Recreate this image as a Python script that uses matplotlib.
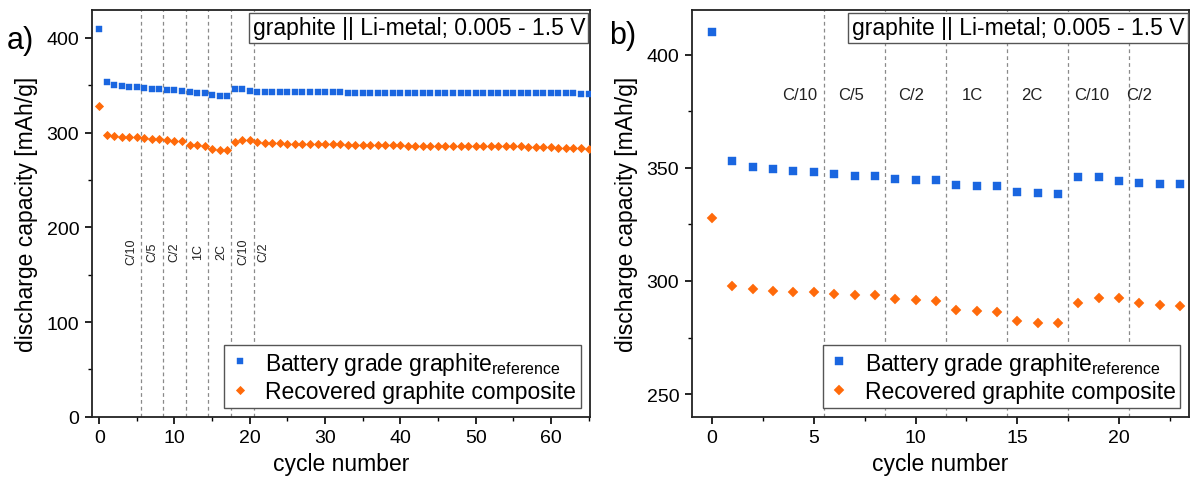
"""
Rate capability: battery grade vs recovered graphite (graphite || Li-metal)
"""

import matplotlib
matplotlib.use("Agg")
import matplotlib.pyplot as plt
from matplotlib.ticker import MultipleLocator

plt.rcParams['font.family'] = ['Liberation Sans', 'DejaVu Sans']
plt.rcParams['mathtext.fontset'] = 'custom'
plt.rcParams['mathtext.rm'] = 'Liberation Sans'

# discharge capacity [mAh/g] per cycle
cycles = list(range(0, 66))
reference = [410.0, 353.1, 350.3, 349.3, 348.7, 348.1, 347.2, 346.6, 346.5, 345.3,
             344.7, 344.5, 342.6, 342.0, 341.9, 339.5, 338.8, 338.5, 345.9, 345.9,
             344.1, 343.2, 343.1, 342.9, 342.9, 342.8, 342.8, 342.7, 342.7, 342.6,
             342.6, 342.5, 342.5, 342.4, 342.4, 342.3, 342.3, 342.3, 342.2, 342.2,
             342.2, 342.1, 342.1, 342.0, 342.0, 342.0, 341.9, 341.9, 341.9, 341.8,
             341.8, 341.8, 341.7, 341.7, 341.7, 341.6, 341.6, 341.6, 341.5, 341.5,
             341.5, 341.4, 341.4, 341.4, 341.3, 341.3]
recovered = [327.7, 297.8, 296.3, 295.7, 295.3, 295.0, 294.2, 293.8, 293.7, 292.2,
             291.4, 291.2, 287.3, 286.6, 286.4, 282.3, 281.6, 281.3, 290.3, 292.3,
             292.3, 290.3, 289.2, 288.9, 288.8, 288.5, 288.4, 288.1, 288.0, 287.9,
             287.6, 287.5, 287.5, 287.3, 287.1, 287.0, 287.0, 286.9, 286.6, 286.5,
             286.5, 286.4, 286.1, 286.0, 286.0, 285.7, 285.6, 285.9, 286.0, 286.0,
             286.1, 286.0, 286.0, 285.9, 285.6, 285.5, 285.4, 285.1, 285.0, 284.7,
             284.5, 284.2, 284.0, 283.6, 283.4, 283.0]

rate_bounds = [5.5, 8.5, 11.5, 14.5, 17.5, 20.5]
rate_labels = ["C/10", "C/5", "C/2", "1C", "2C", "C/10", "C/2"]
rate_pos_a = [4.3, 7.0, 10.0, 13.1, 16.2, 19.1, 21.8]
rate_pos_b = [4.3, 6.85, 9.8, 12.8, 15.7, 18.65, 21.0]

BLUE = "#1a66e0"
ORANGE = "#ff6a0a"
DASH = "#8a8a8a"

lbl_ref = r"Battery grade graphite$_\mathregular{reference}$"
lbl_rec = "Recovered graphite composite"
note = "graphite || Li-metal; 0.005 - 1.5 V"

fig = plt.figure(figsize=(11.92, 4.81), dpi=100)
ax1 = fig.add_axes([0.0769, 0.1316, 0.4181, 0.8464])
ax2 = fig.add_axes([0.5803, 0.1316, 0.4174, 0.8464])


def style_axes(ax):
    for s in ax.spines.values():
        s.set_linewidth(1.3)
        s.set_color("#222222")
    ax.tick_params(which="major", direction="out", length=5, width=1.2,
                   labelsize=14, pad=4)
    ax.tick_params(which="minor", direction="out", length=3, width=1.0)
    ax.tick_params(top=False, right=False)


def add_common(ax):
    for b in rate_bounds:
        ax.axvline(b, color=DASH, lw=0.9, ls=(0, (3, 2.5)), zorder=1)
    ax.text(0.99, 0.984, note, transform=ax.transAxes, ha="right", va="top",
            fontsize=16.5, zorder=5,
            bbox=dict(boxstyle="square,pad=0.15", fc="white", ec="#555555", lw=1.0))
    ax.set_xlabel("cycle number", fontsize=16.5, labelpad=4)
    ax.set_ylabel("discharge capacity [mAh/g]", fontsize=16.5, labelpad=6)


def add_legend(ax):
    leg = ax.legend(loc="lower right", fontsize=16.5, frameon=True, fancybox=False,
                    framealpha=1, edgecolor="#555555", borderpad=0.2,
                    labelspacing=0.15, handlelength=1.0, handletextpad=0.6,
                    borderaxespad=0.4)
    leg.get_frame().set_linewidth(1.0)
    leg.set_zorder(6)


# ---- panel a: full test ----
ax1.plot(cycles, reference, ls="none", marker="s", ms=3.8, mec=BLUE, mfc=BLUE,
         mew=0.3, color=BLUE, label=lbl_ref, zorder=3)
ax1.plot(cycles, recovered, ls="none", marker="D", ms=3.7, mec=ORANGE, mfc=ORANGE,
         mew=0.6, color=ORANGE, label=lbl_rec, zorder=3)
add_common(ax1)
for lab, xp in zip(rate_labels, rate_pos_a):
    ax1.text(xp, 175, lab, rotation=90, ha="center", va="center", fontsize=9,
             color="#222222")
ax1.set_xlim(-1, 65.2)
ax1.set_ylim(0, 430)
ax1.xaxis.set_major_locator(MultipleLocator(10))
ax1.xaxis.set_minor_locator(MultipleLocator(5))
ax1.yaxis.set_major_locator(MultipleLocator(100))
ax1.yaxis.set_minor_locator(MultipleLocator(50))
style_axes(ax1)
add_legend(ax1)
fig.text(0.006, 0.915, "a)", fontsize=22, ha="left", va="center")

# ---- panel b: zoom on first cycles ----
n = 24
ax2.plot(cycles[:n], reference[:n], ls="none", marker="s", ms=6.0, mec=BLUE,
         mfc=BLUE, mew=0.3, label=lbl_ref, zorder=3)
ax2.plot(cycles[:n], recovered[:n], ls="none", marker="D", ms=5.6, mec=ORANGE,
         mfc=ORANGE, mew=0.3, label=lbl_rec, zorder=3)
add_common(ax2)
for lab, xp in zip(rate_labels, rate_pos_b):
    ax2.text(xp, 382.5, lab, ha="center", va="center", fontsize=12,
             color="#222222")
ax2.set_xlim(-1, 23.45)
ax2.set_ylim(240, 420)
ax2.xaxis.set_major_locator(MultipleLocator(5))
ax2.xaxis.set_minor_locator(MultipleLocator(2.5))
ax2.yaxis.set_major_locator(MultipleLocator(50))
ax2.yaxis.set_minor_locator(MultipleLocator(25))
style_axes(ax2)
add_legend(ax2)
fig.text(0.511, 0.925, "b)", fontsize=22, ha="left", va="center")

plt.savefig("out.png", dpi=100)
